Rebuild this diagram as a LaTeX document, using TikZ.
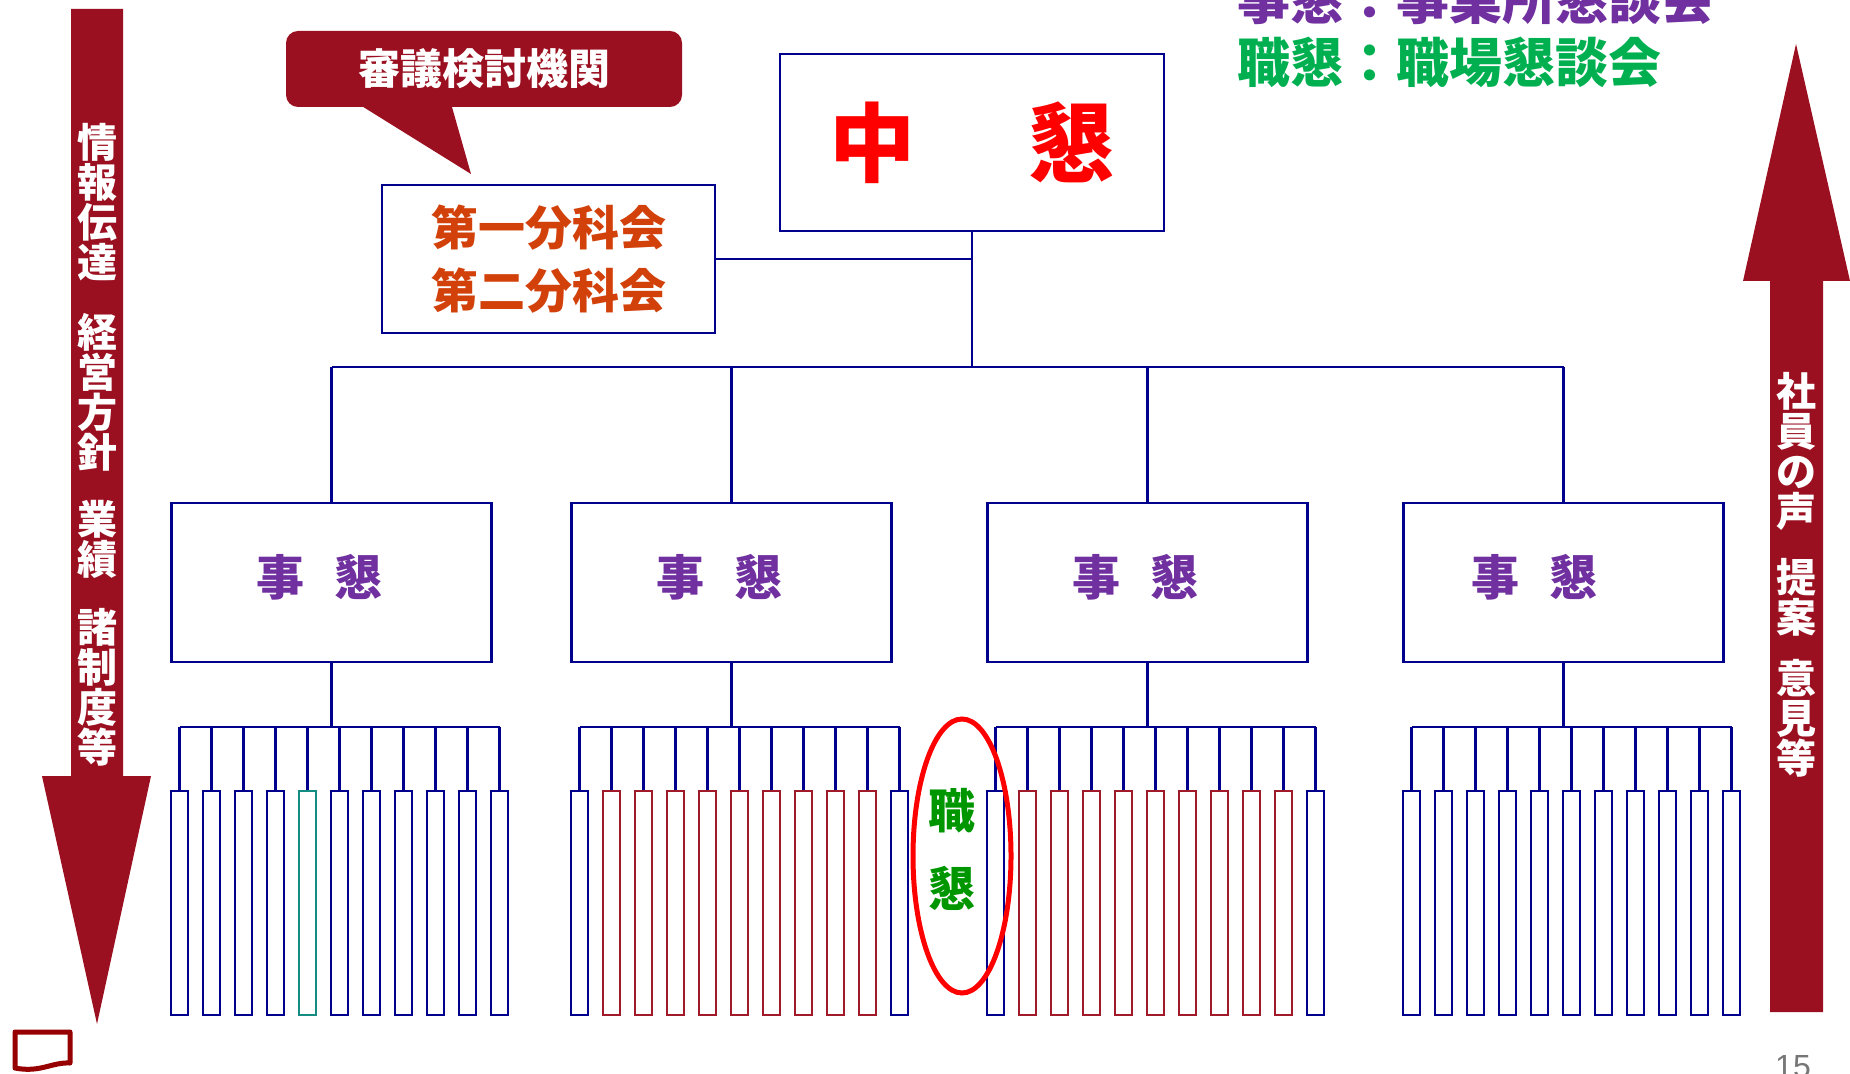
\documentclass[tikz,border=0pt]{standalone}
\usepackage{fontspec}
\newfontfamily\jp{Noto Sans CJK JP}[BoldFont={Noto Sans CJK JP Black}]
\newfontfamily\arial{Liberation Sans}
\usetikzlibrary{shapes.geometric,calc}
\definecolor{navyb}{RGB}{0,0,140}
\definecolor{arrowred}{RGB}{155,16,32}
\definecolor{colred}{RGB}{160,26,42}
\definecolor{colteal}{RGB}{20,140,130}
\definecolor{brightred}{RGB}{255,0,0}
\definecolor{orangered}{RGB}{210,65,10}
\definecolor{purp}{RGB}{112,48,160}
\definecolor{legendgreen}{RGB}{0,176,80}
\definecolor{darkgreen}{RGB}{0,150,0}
\definecolor{iconred}{RGB}{150,0,0}
\definecolor{pagegray}{RGB}{118,118,118}
\begin{document}
\begin{tikzpicture}[x=0.5pt,y=-0.5pt,
  conn/.style={draw=navyb,line width=1.3pt},
  connthick/.style={draw=navyb,line width=1.7pt},
  orgbox/.style={draw=navyb,line width=1.3pt,fill=white,inner sep=0pt},
  colbox/.style={line width=1.3pt,fill=white,inner sep=0pt,minimum width=8.5pt,minimum height=112pt},
  jpb/.style={font={\jp\bfseries\fontsize{#1}{#1}\selectfont},inner sep=0pt},
  vtext/.style={text=white,align=center,inner sep=0pt,font={\jp\bfseries\fontsize{20}{20}\selectfont}}
]
\useasboundingbox (0,0) rectangle (1850,1074);

% left arrow
\fill[arrowred] (71,9) -- (123,9) -- (123,776) -- (151,776) -- (97,1024) -- (42,776) -- (71,776) -- cycle;
\node[vtext] (l1) at (97,202) {情\\報\\伝\\達};
\node[vtext] (l2) at (97,392.5) {経\\営\\方\\針};
\node[vtext] (l3) at (97,539.5) {業\\績};
\node[vtext] (l4) at (97,687.5) {諸\\制\\度\\等};

% right arrow
\fill[arrowred] (1770,1012) -- (1823,1012) -- (1823,281) -- (1850,281) -- (1796,44) -- (1743,281) -- (1770,281) -- cycle;
\node[vtext] (r1) at (1796,451) {社\\員\\の\\声};
\node[vtext] (r2) at (1796,597) {提\\案};
\node[vtext] (r3) at (1796,718) {意\\見\\等};

% callout
\node[fill=arrowred, rounded corners=6pt, minimum width=198pt, minimum height=38pt, inner sep=0pt, text=white, font={\jp\bfseries\fontsize{21}{21}\selectfont}] (callout) at (484,69) {審議検討機関};
\fill[arrowred] (352,100) -- (471,174) -- (450,100) -- cycle;

% top boxes
\node[orgbox, minimum width=192pt, minimum height=88.5pt, text=brightred, font={\jp\bfseries\fontsize{43}{43}\selectfont}] (chukon) at (972,142.5) {中\hspace{56.5pt}懇};
\node[orgbox, minimum width=166.5pt, minimum height=74pt, text=orangered, align=center, font={\jp\bfseries\fontsize{23.5}{31.5}\selectfont}] (bunka) at (548.5,259) {第一分科会\\第二分科会};

\coordinate (bus) at (972,367);
\draw[conn] (chukon.south) -- (bus);
\draw[conn] (bunka.east) -- (bunka.east -| chukon.south);

% jikon boxes and columns
\foreach \g/\L/\tx in {1/171/148.5,2/571/148.5,3/987/148.5,4/1403/131.5}{
  \node[orgbox, minimum width=160pt, minimum height=79.5pt] (j\g) at ({\L+160.5},582.5) {};
  \node[jpb=24, text=purp] (jt\g) at ({\L+\tx},577) {事\hspace{15.5pt}懇};
  \coordinate (sb\g) at ({\L+160.5},727);
  \draw[connthick] (j\g.south) -- (sb\g);
  \foreach \i in {0,...,10}{
    \def\cc{navyb}
    \ifnum\g=1 \ifnum\i=4 \def\cc{colteal}\fi\fi
    \ifnum\g=2 \ifnum\i>0 \ifnum\i<10 \def\cc{colred}\fi\fi\fi
    \ifnum\g=3 \ifnum\i>0 \ifnum\i<10 \def\cc{colred}\fi\fi\fi
    \node[colbox, draw=\cc] (c\g-\i) at ({\L+8.5+32*\i},903) {};
    \draw[conn] (c\g-\i.north) -- (c\g-\i.north |- sb\g);
  }
  \draw[conn] (c\g-0.north |- sb\g) -- (c\g-10.north |- sb\g);
  \draw[conn] (j\g.north) -- (j\g.north |- bus);
}
\draw[conn] (j1.north |- bus) -- (j4.north |- bus);

% shokon ellipse
\node[draw=brightred, line width=2.5pt, ellipse, minimum width=49pt, minimum height=137pt, inner sep=0pt] (shokon) at (962,856) {};
\node[align=center, text=darkgreen, inner sep=0pt, font={\jp\bfseries\fontsize{23.5}{39}\selectfont}] (shokontext) at (952,849) {職\\懇};

% legend
\node[anchor=west, jpb=26.5, text=purp] (leg1) at (1237,-1) {事懇：事業所懇談会};
\node[anchor=west, jpb=26.5, text=legendgreen] (leg2) at (1237,62) {職懇：職場懇談会};

% page number and icon
\node[anchor=north, inner sep=0pt, text=pagegray, font={\arial\fontsize{16}{16}\selectfont}] (pagenum) at (1793,1055) {15};
\draw[iconred, line width=2.5pt, line join=round, line cap=round] (15,1068) -- (15,1032) -- (70,1032) -- (70,1063) .. controls (52,1062) and (40,1073) .. (15,1068);
\end{tikzpicture}
\end{document}
